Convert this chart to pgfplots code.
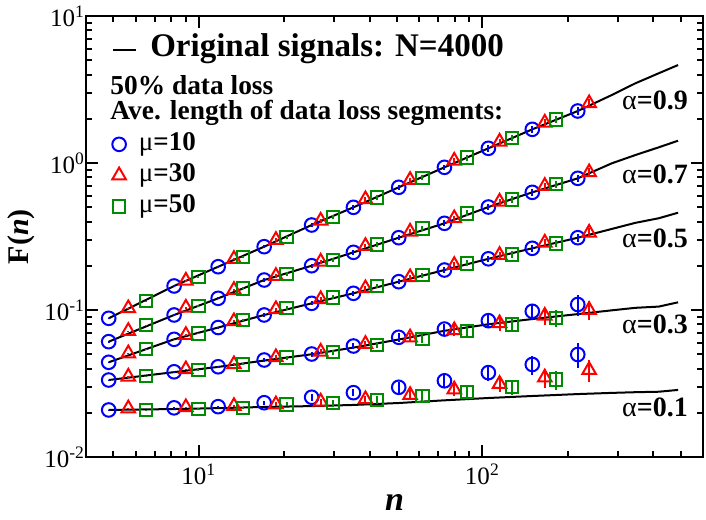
\documentclass[border=0pt]{standalone}
\usepackage{fontspec}
\setmainfont{Liberation Serif}
\usepackage{pgfplots}
\usepackage{pgfplotstable}
\pgfplotsset{compat=1.18}

% F(n): n, then F and error for alpha = 0.9, 0.7, 0.5, 0.3, 0.1
\pgfplotstableread{
n     a9     e9     a7     e7     a5     e5     a3     e3     a1     e1
4.81  0.0878 0.0004 0.0609 0.0003 0.0441 0.0002 0.0334 0.0002 0.0209 0.0001
8.18  0.1457 0.0015 0.0925 0.0009 0.0632 0.0006 0.0380 0.0004 0.0216 0.0002
11.7  0.1970 0.0030 0.1201 0.0018 0.0760 0.0011 0.0411 0.0006 0.0220 0.0004
17.0  0.2696 0.0067 0.1600 0.0040 0.0925 0.0023 0.0457 0.0014 0.0234 0.0007
25.0  0.3787 0.0114 0.2001 0.0060 0.1110 0.0033 0.0502 0.0020 0.0255 0.0013
35.1  0.4995 0.0175 0.2469 0.0086 0.1299 0.0045 0.0569 0.0028 0.0274 0.0016
50.7  0.6835 0.0273 0.3103 0.0124 0.1558 0.0062 0.0652 0.0046 0.0298 0.0024
73.5  0.9348 0.0420 0.3889 0.0175 0.1871 0.0084 0.0742 0.0067 0.0330 0.0033
105   1.259  0.0630 0.5019 0.0250 0.2230 0.0112 0.0846 0.0093 0.0375 0.0045
150   1.695  0.0930 0.6318 0.0347 0.2629 0.0145 0.0980 0.0127 0.0426 0.0064
217   2.258  0.1350 0.7869 0.0472 0.3103 0.0186 0.1090 0.0180 0.0498 0.0095
}\muten

\pgfplotstableread{
n     a9     e9     a7     e7     a5     e5     a3     e3     a1     e1
5.64  0.1027 0.0005 0.0720 0.0004 0.0507 0.0003 0.0352 0.0002 0.0214 0.0001
9.0   0.1582 0.0016 0.1037 0.0010 0.0676 0.0007 0.0395 0.0004 0.0218 0.0002
13.3  0.2223 0.0033 0.1368 0.0021 0.0838 0.0013 0.0427 0.0006 0.0222 0.0004
18.7  0.2995 0.0075 0.1703 0.0043 0.1013 0.0025 0.0477 0.0014 0.0228 0.0007
26.9  0.4050 0.0122 0.2131 0.0064 0.1183 0.0035 0.0520 0.0021 0.0238 0.0012
38.7  0.5664 0.0198 0.2724 0.0095 0.1405 0.0049 0.0587 0.0029 0.0247 0.0015
55.6  0.7660 0.0306 0.3409 0.0136 0.1669 0.0067 0.0650 0.0046 0.0264 0.0021
79.6  1.036  0.0466 0.4205 0.0189 0.2023 0.0091 0.0728 0.0066 0.0288 0.0029
115   1.396  0.0700 0.5454 0.0273 0.2367 0.0118 0.0812 0.0089 0.0314 0.0038
166   1.880  0.1030 0.6974 0.0384 0.2870 0.0158 0.0913 0.0119 0.0347 0.0052
238   2.548  0.1780 0.8644 0.0605 0.3357 0.0235 0.1000 0.0150 0.0391 0.0066
}\muthirty

\pgfplotstableread{
n     a9     e9     a7     e7     a5     e5     a3     e3     a1     e1
6.5   0.1151 0.0006 0.0791 0.0004 0.0543 0.0003 0.0356 0.0002 0.0209 0.0001
9.97  0.1684 0.0017 0.1065 0.0011 0.0694 0.0007 0.0391 0.0004 0.0213 0.0002
14.3  0.2284 0.0034 0.1405 0.0021 0.0855 0.0013 0.0427 0.0006 0.0216 0.0004
20.4  0.3124 0.0078 0.1757 0.0044 0.1032 0.0026 0.0474 0.0014 0.0228 0.0007
29.7  0.4312 0.0129 0.2189 0.0066 0.1220 0.0037 0.0516 0.0021 0.0232 0.0012
42.6  0.5843 0.0205 0.2798 0.0098 0.1457 0.0051 0.0578 0.0029 0.0244 0.0015
61.4  0.7943 0.0318 0.3595 0.0144 0.1730 0.0069 0.0637 0.0045 0.0260 0.0021
88.1  1.087  0.0489 0.4548 0.0205 0.2078 0.0094 0.0720 0.0065 0.0278 0.0028
127   1.486  0.0743 0.5664 0.0283 0.2393 0.0120 0.0797 0.0088 0.0299 0.0036
182   1.983  0.1090 0.7197 0.0396 0.2842 0.0156 0.0885 0.0115 0.0336 0.0050
}\mufifty

% original signals (black curves)
\pgfplotstableread{
n     a9     a7     a5     a3     a1
4.81  0.0878 0.0609 0.0441 0.0334 0.0209
8.18  0.1457 0.0925 0.0632 0.0378 0.0212
11.7  0.1970 0.1201 0.0760 0.0410 0.0215
17.0  0.2696 0.1600 0.0925 0.0453 0.0219
25.0  0.3787 0.2001 0.1110 0.0500 0.0222
35.1  0.4995 0.2469 0.1299 0.0555 0.0226
50.7  0.6835 0.3103 0.1558 0.0630 0.0233
73.5  0.9348 0.3889 0.1871 0.0722 0.0243
105   1.259  0.5019 0.2230 0.0800 0.0252
150   1.695  0.6318 0.2629 0.0868 0.0260
217   2.258  0.7869 0.3103 0.0938 0.0268
286   2.900  0.9950 0.3560 0.0995 0.0273
347   3.490  1.1340 0.3920 0.1035 0.0276
419   4.080  1.2790 0.4210 0.1055 0.0278
490   4.640  1.4180 0.4590 0.1128 0.0286
}\orig

\pgfplotsset{
  sym10/.style={blue, only marks, mark=o, mark size=3.4pt, line width=1pt},
  sym30/.style={red, only marks, mark=triangle, mark size=3.9pt, line width=1pt},
  sym50/.style={green!55!black, only marks, mark=square, mark size=3.1pt, line width=1pt},
  ebar/.style={error bars/.cd, y dir=both, y explicit, error mark=none,
    error bar style={line width=1pt}},
  shortleg/.style={
    legend cell align=left,
    legend image code/.code={\draw[mark repeat=2,mark phase=2,##1] plot coordinates {(0pt,0pt) (5.75pt,0pt) (11.5pt,0pt)};},
  },
}

\begin{document}
\begin{tikzpicture}
\begin{loglogaxis}[
  name=ax,
  scale only axis, width=308.5pt, height=220.5pt,
  xmin=4, xmax=600, ymin=0.01, ymax=10,
  axis line style={line width=1.1pt},
  every tick/.style={black, line width=1pt},
  major tick length=6pt, minor tick length=3pt,
  xtick={10,100}, xticklabels={10\textsuperscript{1},10\textsuperscript{2}},
  minor xtick={4,5,6,7,8,9,20,30,40,50,60,70,80,90,200,300,400,500},
  ytick={0.01,0.1,1,10},
  yticklabels={10\textsuperscript{-2},10\textsuperscript{-1},10\textsuperscript{0},10\textsuperscript{1}},
  minor ytick={0.02,0.03,0.04,0.05,0.06,0.07,0.08,0.09,0.2,0.3,0.4,0.5,0.6,0.7,0.8,0.9,2,3,4,5,6,7,8,9},
  tick label style={font=\fontsize{12.5}{14}\selectfont},
  yticklabel style={xshift=3pt},
  xlabel={\textbf{\textit{n}}},
  xlabel style={font=\fontsize{17}{19}\selectfont, at={(axis description cs:0.5,-0.104)}, anchor=center},
  ylabel={\textbf{F(\textit{n})}},
  ylabel style={font=\fontsize{15}{17}\selectfont, at={(axis description cs:-0.105,0.5)}, anchor=center},
  shortleg,
  legend style={at={(rel axis cs:0.042,0.9236)}, anchor=west, draw=none, fill=none,
    inner sep=0pt, column sep=6.5pt, nodes={inner sep=0pt, text height=11pt, text depth=4pt},
    font=\fontsize{16.5}{18}\selectfont\bfseries},
]
\addplot[black, line width=1pt, forget plot] table[x=n, y=a9] {\orig};
\addplot[black, line width=1pt, forget plot] table[x=n, y=a7] {\orig};
\addplot[black, line width=1pt, forget plot] table[x=n, y=a5] {\orig};
\addplot[black, line width=1pt, forget plot] table[x=n, y=a3] {\orig};
\addplot[black, line width=1pt, forget plot] table[x=n, y=a1] {\orig};

\addplot[sym10, forget plot, ebar] table[x=n, y=a9, y error=e9] {\muten};
\addplot[sym10, forget plot, ebar] table[x=n, y=a7, y error=e7] {\muten};
\addplot[sym10, forget plot, ebar] table[x=n, y=a5, y error=e5] {\muten};
\addplot[sym10, forget plot, ebar] table[x=n, y=a3, y error=e3] {\muten};
\addplot[sym10, forget plot, ebar] table[x=n, y=a1, y error=e1] {\muten};

\addplot[sym30, forget plot, ebar] table[x=n, y=a9, y error=e9] {\muthirty};
\addplot[sym30, forget plot, ebar] table[x=n, y=a7, y error=e7] {\muthirty};
\addplot[sym30, forget plot, ebar] table[x=n, y=a5, y error=e5] {\muthirty};
\addplot[sym30, forget plot, ebar] table[x=n, y=a3, y error=e3] {\muthirty};
\addplot[sym30, forget plot, ebar] table[x=n, y=a1, y error=e1] {\muthirty};

\addplot[sym50, forget plot, ebar] table[x=n, y=a9, y error=e9] {\mufifty};
\addplot[sym50, forget plot, ebar] table[x=n, y=a7, y error=e7] {\mufifty};
\addplot[sym50, forget plot, ebar] table[x=n, y=a5, y error=e5] {\mufifty};
\addplot[sym50, forget plot, ebar] table[x=n, y=a3, y error=e3] {\mufifty};
\addplot[sym50, forget plot, ebar] table[x=n, y=a1, y error=e1] {\mufifty};

\addlegendimage{black, line width=1pt}
\addlegendentry{Original signals: N=4000}

\begin{scope}[every node/.style={anchor=base west, inner sep=0pt, font=\fontsize{13.7}{15}\selectfont\bfseries}]
\node at (rel axis cs:0.0389,0.8224) {50\% data loss};
\node at (rel axis cs:0.0389,0.7642) {Ave. length of data loss segments:};
\end{scope}

\begin{scope}[every node/.style={anchor=base east, inner sep=0pt, font=\fontsize{14}{16}\selectfont}]
\node at (rel axis cs:0.976,0.787) {α\textbf{=0.9}};
\node at (rel axis cs:0.976,0.621) {α\textbf{=0.7}};
\node at (rel axis cs:0.976,0.474) {α\textbf{=0.5}};
\node at (rel axis cs:0.976,0.281) {α\textbf{=0.3}};
\node at (rel axis cs:0.976,0.091) {α\textbf{=0.1}};
\end{scope}
\node[font=\fontsize{14}{16}\selectfont\bfseries] at (rel axis cs:-0.108,0.977) {(a)};
\end{loglogaxis}

% second, hidden axis only to carry the legend of the three mu series
\begin{axis}[
  at={(ax.south west)}, anchor=south west,
  scale only axis, width=308.5pt, height=220.5pt,
  hide axis, xmin=0, xmax=1, ymin=0, ymax=1,
  shortleg,
  legend style={at={(rel axis cs:0.042,0.745)}, anchor=north west, draw=none, fill=none,
    inner sep=0pt, row sep=0pt, column sep=6.5pt,
    nodes={inner sep=0pt, text height=10.75pt, text depth=4.75pt},
    font=\fontsize{13.5}{15}\selectfont},
]
\addlegendimage{sym10}
\addlegendentry{μ\textbf{=10}}
\addlegendimage{sym30}
\addlegendentry{μ\textbf{=30}}
\addlegendimage{sym50}
\addlegendentry{μ\textbf{=50}}
\end{axis}
\pgfresetboundingbox
\useasboundingbox ([xshift=-43pt,yshift=-31pt]ax.south west) rectangle ([xshift=1.5pt,yshift=8pt]ax.north east);
\end{tikzpicture}
\end{document}
